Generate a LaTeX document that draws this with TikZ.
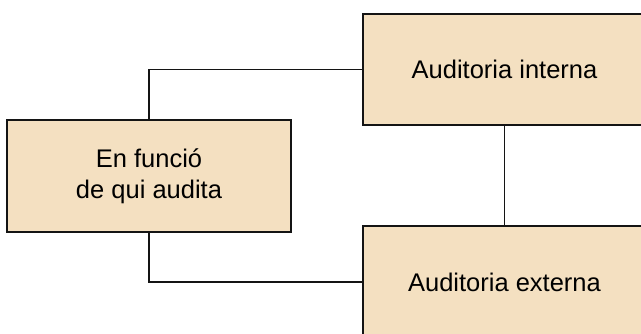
\documentclass[tikz,border=0pt]{standalone}
\usepackage{fontspec}
\setmainfont{Liberation Sans}
\definecolor{boxfill}{RGB}{244,224,193}
\definecolor{lineclr}{RGB}{20,20,20}
\begin{document}
\begin{tikzpicture}[x=1pt,y=-1pt,
  box/.style={draw=lineclr,fill=boxfill,line width=1.6pt,rectangle,inner sep=0pt,
    align=center,font=\fontsize{25.5}{31}\selectfont},
  conn/.style={draw=lineclr,line width=1.6pt}]
\useasboundingbox (0,0) rectangle (641,333);
\clip (0,0) rectangle (641,333);
\fill[white] (0,0) rectangle (641,333);
\node[box,minimum width=284pt,minimum height=112pt] (left) at (149,176) {En funció\\de qui audita};
\node[box,minimum width=283pt,minimum height=111pt] (int) at (504.5,69.5) {Auditoria interna};
\node[box,minimum width=283pt,minimum height=112pt,text depth=0pt] (ext) at (504.5,282) {Auditoria externa};
\draw[conn] (left.north) |- (int.west);
\draw[conn] (left.south) |- (ext.west);
\draw[conn] (int.south) -- (ext.north);
\end{tikzpicture}
\end{document}
